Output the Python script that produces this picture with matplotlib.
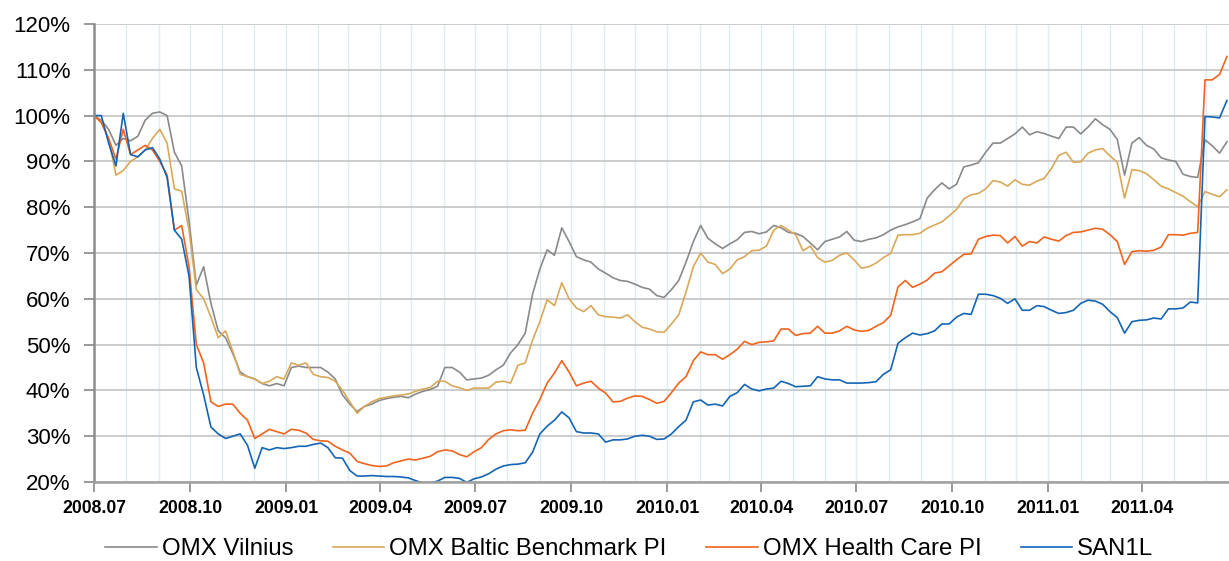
#Bibliotecas
import pandas as pd
import matplotlib
matplotlib.use('Agg')
import matplotlib.pyplot as plt
import matplotlib.dates as mdates
from matplotlib.ticker import MultipleLocator, FuncFormatter

plt.rcParams['font.family'] = ['Liberation Sans', 'DejaVu Sans']

#datos semanales (valor relativo en %, 2008.07.01 = 100)
dates = pd.date_range('2008-07-01', periods=156, freq='7D')

omx_vilnius = [
    100, 99, 97, 93.5, 95, 94.5, 95.5, 99, 100.5, 100.8,
    100, 92, 89, 77, 63, 67, 59, 53, 51.5, 48,
    44, 43, 42.5, 41.5, 41, 41.5, 41, 45, 45.3, 45,
    45, 45, 44, 42.5, 39, 37, 35.4, 36.5, 37, 37.8,
    38.2, 38.5, 38.7, 38.4, 39.2, 39.8, 40.2, 40.9, 45, 45,
    44, 42.3, 42.5, 42.7, 43.3, 44.5, 45.5, 48.2, 50, 52.5,
    61, 66.5, 70.7, 69.5, 75.5, 72.5, 69.2, 68.5, 68, 66.5,
    65.6, 64.6, 64, 63.8, 63.2, 62.5, 62.1, 60.7, 60.3, 62,
    64, 68, 72.5, 76, 73.2, 72, 71, 72, 72.9, 74.5,
    74.7, 74.2, 74.6, 76, 75.5, 74.5, 74.3, 73.6, 72.2, 70.7,
    72.5, 73, 73.5, 74.7, 72.8, 72.5, 73, 73.3, 74, 75,
    75.7, 76.2, 76.8, 77.5, 82, 83.8, 85.3, 84, 85, 88.8,
    89.2, 89.7, 92, 94, 94, 95, 96, 97.5, 95.8, 96.5,
    96.1, 95.5, 95, 97.5, 97.5, 96, 97.5, 99.3, 98, 97,
    94.8, 87, 94, 95.2, 93.5, 92.7, 90.8, 90.3, 90, 87.2,
    86.7, 86.5, 94.7, 93.4, 91.8, 94.3]

omx_baltic = [
    100, 98.5, 95, 87, 88, 90, 91, 92.5, 95, 97,
    94, 84, 83.5, 75, 62, 60, 56, 51.5, 53, 48.5,
    43.5, 43, 42.5, 41.5, 42, 43, 42.5, 46, 45.5, 46,
    43.5, 43, 42.8, 42, 40, 37.5, 35, 36.5, 37.5, 38.2,
    38.5, 38.8, 39, 39.2, 39.8, 40.3, 40.6, 42, 42, 41,
    40.6, 40, 40.5, 40.5, 40.5, 41.8, 42, 41.6, 45.5, 46,
    51, 55, 59.8, 58.5, 63.5, 60, 58, 57.2, 58.5, 56.5,
    56.1, 56, 55.8, 56.5, 55, 53.8, 53.4, 52.8, 52.7, 54.5,
    56.5, 61.5, 67, 70, 68, 67.5, 65.5, 66.5, 68.5, 69.2,
    70.5, 70.6, 71.5, 75, 76, 75, 74, 70.5, 71.5, 69,
    68, 68.4, 69.5, 70, 68.5, 66.7, 67, 67.8, 69, 69.9,
    73.9, 74, 74, 74.3, 75.4, 76.1, 76.8, 78.1, 79.5, 81.8,
    82.7, 83, 84, 85.8, 85.5, 84.6, 86, 85, 84.8, 85.7,
    86.3, 88.5, 91.3, 92, 89.8, 89.9, 91.8, 92.5, 92.8, 91.2,
    89.8, 82, 88.2, 88, 87.3, 86, 84.6, 84, 83.2, 82.4,
    81.2, 80.1, 83.4, 82.8, 82.3, 83.8]

omx_health = [
    100, 98.5, 95, 90.5, 97, 91.5, 92.5, 93.5, 92.5, 90,
    87, 75, 76, 67, 50, 46, 37.5, 36.5, 37, 37,
    35, 33.5, 29.5, 30.5, 31.5, 31, 30.5, 31.5, 31.3, 30.7,
    29.3, 29, 28.9, 27.8, 27, 26.3, 24.5, 24, 23.6, 23.4,
    23.5, 24.2, 24.6, 25, 24.8, 25.2, 25.6, 26.6, 27, 26.8,
    26, 25.5, 26.6, 27.5, 29.3, 30.5, 31.2, 31.4, 31.2, 31.3,
    35, 38, 41.6, 43.8, 46.5, 44, 41, 41.6, 42, 40.5,
    39.4, 37.5, 37.6, 38.3, 38.8, 38.7, 38, 37.2, 37.6, 39.5,
    41.6, 43, 46.5, 48.4, 47.8, 47.8, 46.8, 47.8, 49, 50.7,
    50, 50.5, 50.6, 50.8, 53.4, 53.4, 52, 52.4, 52.5, 54,
    52.5, 52.5, 53, 54, 53.2, 52.9, 53.1, 54, 54.8, 56.4,
    62.6, 64, 62.5, 63.2, 64.1, 65.6, 65.9, 67.2, 68.5, 69.7,
    69.8, 73, 73.6, 73.9, 73.8, 72.2, 73.6, 71.5, 72.5, 72.2,
    73.5, 73, 72.6, 73.8, 74.5, 74.6, 75, 75.4, 75.2, 74,
    72.5, 67.5, 70.3, 70.5, 70.4, 70.6, 71.3, 74, 74, 73.9,
    74.3, 74.5, 107.8, 107.8, 109, 112.9]

san1l = [
    100, 100, 94, 89, 100.5, 91.5, 91, 92.5, 93, 90.5,
    86.5, 75, 73, 65, 45, 39, 32, 30.5, 29.5, 30,
    30.5, 28, 23, 27.5, 27, 27.5, 27.3, 27.5, 27.8, 27.8,
    28.2, 28.5, 27.5, 25.3, 25.2, 22.5, 21.3, 21.3, 21.4, 21.3,
    21.2, 21.2, 21.1, 20.9, 20.3, 19.8, 19.8, 20.2, 21, 21,
    20.8, 19.9, 20.7, 21.1, 21.8, 22.8, 23.5, 23.8, 23.9, 24.2,
    26.5, 30.5, 32.2, 33.5, 35.3, 34, 31, 30.7, 30.7, 30.5,
    28.7, 29.2, 29.2, 29.4, 30, 30.2, 30, 29.3, 29.4, 30.5,
    32.1, 33.5, 37.5, 37.9, 36.8, 37, 36.6, 38.7, 39.5, 41.3,
    40.3, 39.9, 40.3, 40.5, 42, 41.5, 40.8, 40.9, 41, 43,
    42.5, 42.3, 42.3, 41.6, 41.6, 41.6, 41.7, 41.9, 43.5, 44.5,
    50.3, 51.5, 52.5, 52.1, 52.4, 53, 54.5, 54.5, 56, 56.8,
    56.6, 61, 61, 60.7, 60.1, 59, 60, 57.5, 57.5, 58.5,
    58.3, 57.5, 56.8, 57, 57.5, 59, 59.7, 59.5, 58.8, 57.2,
    55.9, 52.5, 55, 55.3, 55.4, 55.8, 55.6, 57.8, 57.8, 58,
    59.3, 59.1, 99.8, 99.7, 99.5, 103.3]

series = [('OMX Vilnius', omx_vilnius, '#8a8a8a'),
          ('OMX Baltic Benchmark PI', omx_baltic, '#d9a85a'),
          ('OMX Health Care PI', omx_health, '#f0641e'),
          ('SAN1L', san1l, '#1565b5')]

fig = plt.figure(figsize=(12.29, 5.61), dpi=100)
ax = fig.add_axes([94/1229, 1 - 482/561, 1 - 94/1229, (482 - 24)/561])

for nombre, valores, color in series:
    ax.plot(dates, valores, color=color, lw=1.2, label=nombre)

ax.set_ylim(20, 120)
ax.set_xlim(pd.Timestamp('2008-07-01'), pd.Timestamp('2011-06-23'))

ax.yaxis.set_major_locator(MultipleLocator(10))
ax.yaxis.set_major_formatter(FuncFormatter(lambda v, p: '%d%%' % v))
ax.xaxis.set_major_locator(mdates.MonthLocator(bymonth=[1, 4, 7, 10]))
ax.xaxis.set_minor_locator(mdates.MonthLocator())
ax.xaxis.set_major_formatter(mdates.DateFormatter('%Y.%m'))

ax.set_axisbelow(True)
ax.grid(True, axis='y', color='#cccccc', lw=1.4)
ax.grid(True, axis='x', which='both', color='#dcedf4', lw=1.0)

for s in ['top', 'right']:
    ax.spines[s].set_visible(False)
ax.spines['left'].set_color('#8c8c8c')
ax.spines['left'].set_linewidth(1.8)
ax.spines['bottom'].set_color('#a0a0a0')
ax.spines['bottom'].set_linewidth(1.8)

ax.tick_params(axis='y', length=7, width=1.4, color='#999999', pad=10, labelsize=16)
ax.tick_params(axis='x', which='major', length=7, width=1.4, color='#999999', pad=6, labelsize=12.7)
ax.tick_params(axis='x', which='minor', length=0)
for lbl in ax.get_xticklabels():
    lbl.set_fontweight('bold')

fig.legend(loc='center', bbox_to_anchor=(0.512, 1 - 549/561), ncol=4, frameon=False,
           fontsize=17.3, handlelength=2.15, handletextpad=0.2, columnspacing=1.65)

plt.savefig('out.png', dpi=100)
